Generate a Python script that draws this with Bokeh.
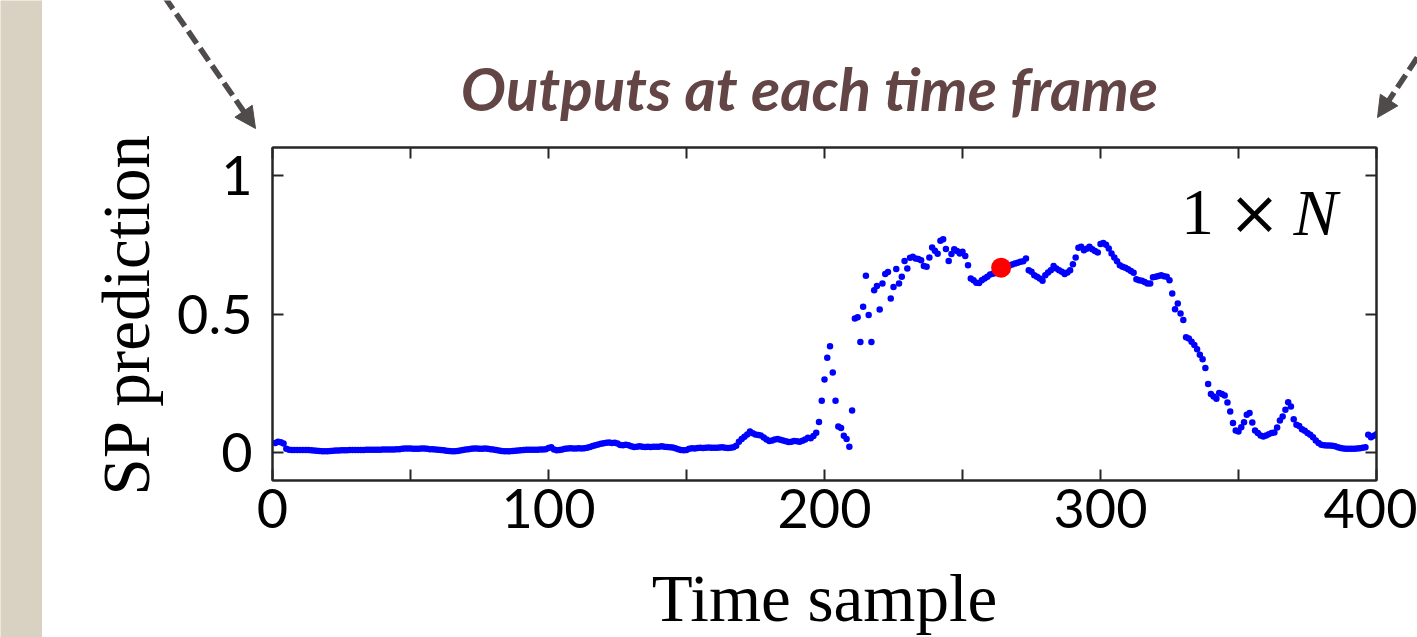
import numpy as np
from bokeh.plotting import figure
from bokeh.layouts import row, column
from bokeh.models import Range1d, FixedTicker, LinearAxis, ColumnDataSource
from bokeh.core.properties import value
from bokeh.embed import file_html
from bokeh.resources import INLINE

# ---------------- data ----------------
time_sample = list(range(1, 401))
sp_prediction = [
    0.035, 0.040, 0.038, 0.033, 0.014, 0.011, 0.010, 0.010, 0.010, 0.010,
    0.010, 0.010, 0.010, 0.009, 0.008, 0.007, 0.006, 0.005, 0.005, 0.005,
    0.006, 0.007, 0.008, 0.008, 0.009, 0.009, 0.009, 0.010, 0.010, 0.010,
    0.010, 0.010, 0.010, 0.011, 0.011, 0.011, 0.011, 0.011, 0.011, 0.012,
    0.012, 0.012, 0.012, 0.012, 0.013, 0.013, 0.014, 0.015, 0.015, 0.015,
    0.014, 0.014, 0.014, 0.015, 0.015, 0.014, 0.013, 0.013, 0.012, 0.011,
    0.010, 0.009, 0.007, 0.006, 0.005, 0.005, 0.006, 0.008, 0.010, 0.012,
    0.013, 0.014, 0.015, 0.015, 0.014, 0.014, 0.015, 0.014, 0.013, 0.012,
    0.010, 0.008, 0.006, 0.005, 0.005, 0.005, 0.006, 0.007, 0.008, 0.009,
    0.010, 0.011, 0.011, 0.011, 0.011, 0.011, 0.012, 0.012, 0.013, 0.017,
    0.020, 0.012, 0.009, 0.010, 0.012, 0.014, 0.015, 0.016, 0.015, 0.015,
    0.016, 0.015, 0.016, 0.018, 0.021, 0.024, 0.027, 0.030, 0.032, 0.034,
    0.036, 0.037, 0.035, 0.036, 0.033, 0.028, 0.027, 0.029, 0.027, 0.023,
    0.021, 0.022, 0.023, 0.022, 0.021, 0.022, 0.021, 0.022, 0.022, 0.022,
    0.023, 0.022, 0.021, 0.020, 0.019, 0.016, 0.013, 0.010, 0.009, 0.010,
    0.014, 0.016, 0.015, 0.017, 0.018, 0.017, 0.018, 0.019, 0.018, 0.018,
    0.018, 0.019, 0.020, 0.018, 0.017, 0.018, 0.020, 0.025, 0.040, 0.050,
    0.058, 0.066, 0.077, 0.070, 0.066, 0.064, 0.062, 0.055, 0.048, 0.042,
    0.044, 0.048, 0.050, 0.047, 0.044, 0.041, 0.039, 0.040, 0.042, 0.041,
    0.040, 0.043, 0.048, 0.054, 0.052, 0.060, 0.072, 0.111, 0.187, 0.264,
    0.342, 0.384, 0.289, 0.187, 0.095, 0.089, 0.061, 0.050, 0.022, 0.152,
    0.484, 0.488, 0.399, 0.526, 0.638, 0.496, 0.399, 0.586, 0.601, 0.516,
    0.610, 0.644, 0.651, 0.556, 0.597, 0.662, 0.610, 0.634, 0.691, 0.664,
    0.703, 0.706, 0.700, 0.698, 0.694, 0.673, 0.670, 0.704, 0.740, 0.728,
    0.717, 0.764, 0.769, 0.734, 0.691, 0.716, 0.733, 0.727, 0.718, 0.724,
    0.709, 0.676, 0.628, 0.622, 0.613, 0.612, 0.622, 0.628, 0.634, 0.642,
    0.645, 0.648, 0.655, 0.667, 0.668, 0.672, 0.675, 0.678, 0.682, 0.685,
    0.688, 0.690, 0.700, 0.658, 0.652, 0.640, 0.634, 0.628, 0.620, 0.640,
    0.650, 0.658, 0.673, 0.664, 0.658, 0.652, 0.644, 0.650, 0.658, 0.679,
    0.704, 0.739, 0.742, 0.730, 0.735, 0.742, 0.733, 0.727, 0.722, 0.752,
    0.756, 0.750, 0.736, 0.718, 0.704, 0.690, 0.676, 0.670, 0.667, 0.661,
    0.655, 0.649, 0.625, 0.622, 0.620, 0.615, 0.610, 0.610, 0.632, 0.634,
    0.637, 0.640, 0.636, 0.634, 0.622, 0.574, 0.517, 0.538, 0.502, 0.478,
    0.416, 0.412, 0.400, 0.388, 0.373, 0.353, 0.337, 0.305, 0.248, 0.212,
    0.203, 0.195, 0.215, 0.212, 0.206, 0.181, 0.149, 0.107, 0.080, 0.077,
    0.092, 0.110, 0.137, 0.143, 0.109, 0.080, 0.071, 0.062, 0.059, 0.062,
    0.067, 0.071, 0.073, 0.091, 0.116, 0.131, 0.155, 0.182, 0.167, 0.121,
    0.101, 0.096, 0.085, 0.079, 0.071, 0.065, 0.056, 0.044, 0.035, 0.029,
    0.027, 0.026, 0.026, 0.025, 0.023, 0.020, 0.017, 0.015, 0.014, 0.014,
    0.014, 0.014, 0.015, 0.016, 0.018, 0.020, 0.065, 0.056, 0.061, 0.067,
]
current_x = [264]
current_y = [0.667]

x_major_ticks = [0, 100, 200, 300, 400]
x_minor_ticks = [50, 150, 250, 350]
y_ticks = [0, 0.5, 1]
y_tick_labels = ["0", "0.5", "1"]

title_text = "Outputs at each time frame"
x_label = "Time sample"
y_label = "SP prediction"

W, H = 1417, 637
STRIP_W = 42
TOP_H = 135          # banner with title and arrows
MAIN_H = H - TOP_H
BEIGE = "#D9D1C2"
AX = "#262626"
ARROW_C = "#4F4B4B"

def no_align(f):
    try:
        f.frame_align = False
    except Exception:
        pass

def blank(width, height, x0, x1, ytop, ybot, bg="white"):
    f = figure(width=width, height=height,
               x_range=Range1d(x0, x1), y_range=Range1d(ybot, ytop),
               x_axis_location=None, y_axis_location=None,
               output_backend="svg", toolbar_location=None, min_border=0,
               background_fill_color=bg, border_fill_color=bg)
    f.outline_line_color = None
    f.xgrid.visible = False
    f.ygrid.visible = False
    no_align(f)
    return f

# ---------------- left beige strip ----------------
strip = blank(STRIP_W, H, 0, STRIP_W, 0, H, bg=BEIGE)

# ---------------- top banner: title + arrows (pixel coords) ----------------
top = blank(W - STRIP_W, TOP_H, STRIP_W, W, 0, TOP_H)
top.text(x=[809], y=[87], text=[title_text], text_align="center",
         text_baseline="middle", text_font=value("Lato"),
         text_font_style="bold italic", text_font_size="60px",
         text_color="#634545")

def arrow(f, start, tip, head_len=21, head_w=21):
    sx, sy = start
    tx, ty = tip
    d = np.hypot(tx - sx, ty - sy)
    ux, uy = (tx - sx) / d, (ty - sy) / d
    nx, ny = -uy, ux
    bx, by = tx - head_len * ux, ty - head_len * uy
    f.line([sx, bx + 2 * ux], [sy, by + 2 * uy], line_color=ARROW_C,
           line_width=5.5, line_dash="15 6")
    f.patch([tx, bx + nx * head_w / 2, bx - nx * head_w / 2],
            [ty, by + ny * head_w / 2, by - ny * head_w / 2],
            fill_color=ARROW_C, line_color=ARROW_C, line_width=1)

arrow(top, (140, -38.5), (255, 128))
arrow(top, (1440, 22), (1377, 117))

# ---------------- main chart ----------------
p = figure(width=W - STRIP_W, height=MAIN_H,
           x_range=Range1d(0, 400), y_range=Range1d(-0.1, 1.1),
           output_backend="svg", toolbar_location=None,
           min_border_left=272 - STRIP_W, min_border_right=41,
           min_border_top=147 - TOP_H, min_border_bottom=H - 481,
           background_fill_color="white", border_fill_color="white")
no_align(p)
p.xgrid.visible = False
p.ygrid.visible = False
p.outline_line_color = AX
p.outline_line_width = 2

xt = FixedTicker(ticks=x_major_ticks, minor_ticks=x_minor_ticks)
yt = FixedTicker(ticks=y_ticks, minor_ticks=[])

def style_axis(ax, labels=True):
    ax.axis_line_color = AX
    ax.axis_line_width = 2
    ax.major_tick_line_color = AX
    ax.minor_tick_line_color = AX
    ax.major_tick_line_width = 2
    ax.minor_tick_line_width = 2
    ax.major_tick_in = 11
    ax.major_tick_out = 0
    ax.minor_tick_in = 11
    ax.minor_tick_out = 0
    if labels:
        ax.major_label_text_font = "Lato"
        ax.major_label_text_font_size = "54px"
        ax.major_label_text_color = "black"
    else:
        ax.major_label_text_font_size = "0px"
        ax.major_label_text_alpha = 0
        ax.major_label_standoff = 0

def style_label(ax, text, standoff):
    ax.axis_label = text
    ax.axis_label_text_font = "Liberation Serif"
    ax.axis_label_text_font_size = "67px"
    ax.axis_label_text_font_style = "normal"
    ax.axis_label_text_color = "black"
    ax.axis_label_standoff = standoff

xa = p.xaxis[0]
xa.ticker = xt
style_axis(xa)
xa.major_label_standoff = 8
style_label(xa, x_label, 30)

ya = p.yaxis[0]
ya.ticker = yt
style_axis(ya)
ya.major_label_overrides = {v: s for v, s in zip(y_ticks, y_tick_labels)}
ya.major_label_standoff = 20
style_label(ya, y_label, 11)

top_ax = LinearAxis(ticker=xt)
style_axis(top_ax, labels=False)
p.add_layout(top_ax, "above")
right_ax = LinearAxis(ticker=yt)
style_axis(right_ax, labels=False)
p.add_layout(right_ax, "right")

src = ColumnDataSource(dict(x=time_sample, y=sp_prediction))
p.scatter("x", "y", source=src, size=6.5, color="#0000FF", line_width=0)
p.scatter(current_x, current_y, size=20, color="#FF0000", line_width=0)

# "1 x N" annotation inside the axes (data coordinates)
def dx(px):
    return (px - 272) / 2.76
def dy(py):
    return 1.1 + (147 - py) / 278.0
p.text(x=[dx(1197)], y=[dy(212)], text=["1"], text_align="center",
       text_baseline="alphabetic", text_font=value("Liberation Serif"),
       text_font_size="66px", text_color="black")
p.text(x=[dx(1254)], y=[dy(212)], text=["\u00d7"], text_align="center",
       text_baseline="alphabetic", text_font=value("DejaVu Serif"),
       text_font_size="62px", text_color="black")
p.text(x=[dx(1293)], y=[dy(212)], text=["N"], text_align="left",
       text_baseline="alphabetic", text_font=value("Liberation Serif"),
       text_font_style="italic", text_font_size="66px", text_color="black")

layout = row(strip, column(top, p, spacing=0), spacing=0)
open("out.html", "w").write(file_html(layout, INLINE))
